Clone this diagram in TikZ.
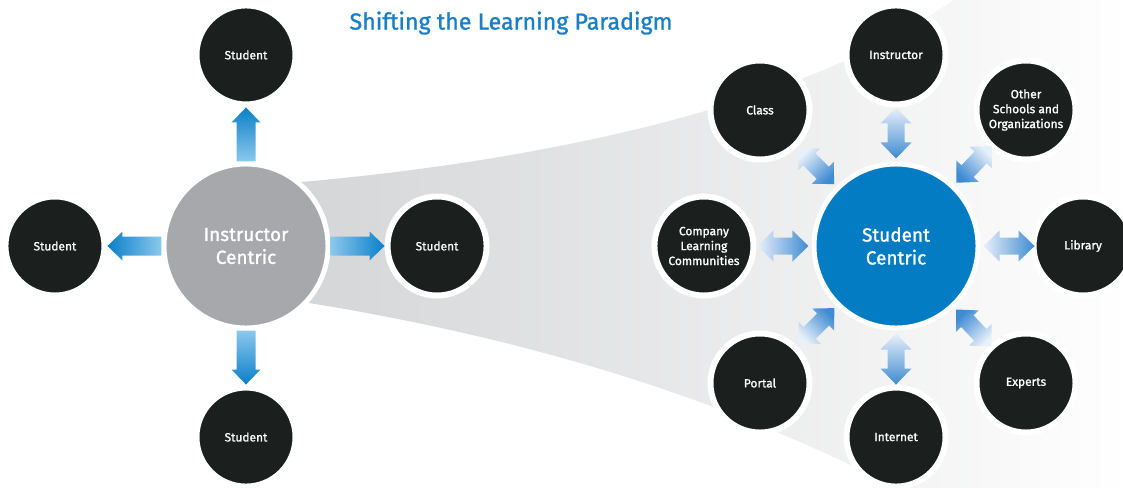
\documentclass[tikz,border=0pt]{standalone}
\usepackage{fontspec}
\setmainfont{Fira Sans}
\newfontfamily\labelFont{Fira Sans}[FakeBold=1.2]
\usepackage{tikz}
\usetikzlibrary{positioning,calc}
\definecolor{nodeBlack}{HTML}{1B201F}
\definecolor{hubGray}{HTML}{A7A8AB}
\definecolor{hubBlue}{HTML}{047CC4}
\definecolor{titleBlue}{HTML}{1A7FC6}
\definecolor{funnelGray}{HTML}{D4D5D7}
\definecolor{arrowDark}{HTML}{0A7FC9}
\definecolor{arrowLight}{HTML}{8CC8EC}
\definecolor{pairDark}{HTML}{3F8BD2}
\definecolor{pairLight}{HTML}{E8F0FA}
\tikzset{
  studentCircle/.style={
    circle,
    fill=nodeBlack,
    draw=white,
    line width=0.15cm,
    minimum size=2.475cm,
    inner sep=0pt,
    text=white,
    align=center,
    font=\labelFont\fontsize{8.5}{10.6}\selectfont
  },
  hubCircle/.style={
    circle,
    draw=white,
    line width=0.125cm,
    minimum size=4.1cm,
    inner sep=0pt,
    text=white,
    align=center,
    font=\labelFont\fontsize{13.5}{16.3}\selectfont
  },
  titleText/.style={
    text=titleBlue,
    font=\labelFont\fontsize{16.5}{19}\selectfont
  }
}
% single arrow: #1 tail, #2 tip, #3 shading
\newcommand{\oneArrow}[3]{%
  \coordinate (h) at ($(#2)!0.375cm!(#1)$);
  \shade[#3] ($(#1)!0.2375cm!90:(#2)$) -- ($(h)!0.2375cm!90:(#2)$)
    -- ($(h)!0.3625cm!90:(#2)$) -- (#2) -- ($(h)!0.3625cm!-90:(#2)$)
    -- ($(h)!0.2375cm!-90:(#2)$) -- ($(#1)!0.2375cm!-90:(#2)$) -- cycle;
}
% double arrow between hub #1 and node #2, #3 shading
\newcommand{\pairArrow}[3]{%
  \coordinate (p) at ($(#1)!2.1875cm!(#2)$);
  \coordinate (q) at ($(#1)!3.4625cm!(#2)$);
  \coordinate (ha) at ($(p)!0.4cm!(q)$);
  \coordinate (hb) at ($(q)!0.4cm!(p)$);
  \shade[#3] (p) -- ($(ha)!0.3875cm!90:(q)$) -- ($(ha)!0.2125cm!90:(q)$)
    -- ($(hb)!0.2125cm!-90:(p)$) -- ($(hb)!0.3875cm!-90:(p)$) -- (q)
    -- ($(hb)!0.3875cm!90:(p)$) -- ($(hb)!0.2125cm!90:(p)$)
    -- ($(ha)!0.2125cm!-90:(q)$) -- ($(ha)!0.3875cm!-90:(q)$) -- cycle;
}

\begin{document}
\begin{tikzpicture}[x=0.025cm, y=-0.025cm, node distance=1.35cm]
  \useasboundingbox (0,0) rectangle (1123,487);
  \begin{scope}
    \clip (0,0) rectangle (1123,487);
    \shade[left color=funnelGray, right color=white]
      (290,183) .. controls (560,160) and (820,100) .. (960,-5)
      -- (1130,-5) -- (1130,495) -- (910,495)
      .. controls (750,410) and (550,340) .. (290,300) -- cycle;
  \end{scope}

  \node[titleText] (title) at (511,23) {Shifting the Learning Paradigm};

  \node[hubCircle, fill=hubGray] (ic) at (246,246) {Instructor\\Centric};
  \node[studentCircle, above=of ic] (sTop) {Student};
  \node[studentCircle, left=of ic] (sLeft) {Student};
  \node[studentCircle, right=of ic] (sRight) {Student};
  \node[studentCircle, below=of ic] (sBottom) {Student};

  \oneArrow{ic.north}{sTop.south}{top color=arrowDark, bottom color=arrowLight}
  \oneArrow{ic.west}{sLeft.east}{left color=arrowDark, right color=arrowLight}
  \oneArrow{ic.east}{sRight.west}{left color=arrowLight, right color=arrowDark}
  \oneArrow{ic.south}{sBottom.north}{top color=arrowLight, bottom color=arrowDark}

  \node[hubCircle, fill=hubBlue] (sc) at (896,246) {Student\\Centric};
  \node[studentCircle, above=of sc] (instructor) {Instructor};
  \node[studentCircle, below=of sc] (internet) {Internet};
  \node[studentCircle, left=1.375cm of sc] (company) {Company\\Learning\\Communities};
  \node[studentCircle, right=1.25cm of sc] (library) {Library};
  \node[studentCircle] (class) at (760,110) {Class};
  \node[studentCircle] (other) at (1026,110) {Other\\Schools and\\Organizations};
  \node[studentCircle] (portal) at (760,383) {Portal};
  \node[studentCircle] (experts) at (1026,383) {Experts};

  \pairArrow{sc.center}{instructor.center}{top color=pairLight, bottom color=pairDark}
  \pairArrow{sc.center}{internet.center}{top color=pairLight, bottom color=pairDark}
  \pairArrow{sc.center}{company.center}{left color=pairLight, right color=pairDark}
  \pairArrow{sc.center}{library.center}{left color=pairLight, right color=pairDark}
  \pairArrow{sc.center}{class.center}{top color=pairLight, bottom color=pairDark, shading angle=45}
  \pairArrow{sc.center}{other.center}{top color=pairLight, bottom color=pairDark, shading angle=-45}
  \pairArrow{sc.center}{portal.center}{top color=pairDark, bottom color=pairLight, shading angle=-45}
  \pairArrow{sc.center}{experts.center}{top color=pairDark, bottom color=pairLight, shading angle=45}
\end{tikzpicture}
\end{document}
